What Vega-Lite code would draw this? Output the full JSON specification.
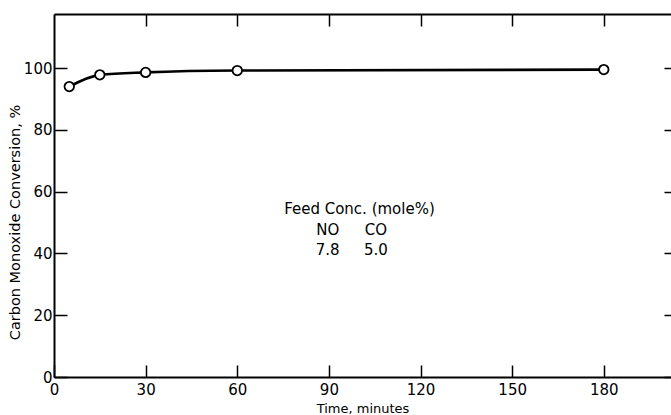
{
  "$schema": "https://vega.github.io/schema/vega-lite/v6.json",
  "autosize": "none",
  "width": 617,
  "height": 363,
  "padding": {"left": 54, "top": 14, "right": 0, "bottom": 38},
  "background": "white",
  "config": {
    "view": {"stroke": null},
    "font": "DejaVu Sans",
    "axis": {
      "grid": false,
      "domainColor": "black",
      "domainWidth": 2,
      "tickColor": "black",
      "tickWidth": 1.5,
      "labelColor": "black",
      "labelFont": "DejaVu Sans",
      "labelFontSize": 15,
      "titleColor": "black",
      "titleFont": "DejaVu Sans",
      "titleFontSize": 13,
      "titleFontWeight": "normal"
    }
  },
  "datasets": {
    "pts": [
      {"time": 5, "conv": 94.0},
      {"time": 15, "conv": 97.8},
      {"time": 30, "conv": 98.6},
      {"time": 60, "conv": 99.2},
      {"time": 180, "conv": 99.5}
    ],
    "notes": [
      {"x": 100, "y": 54.5, "label": "Feed Conc. (mole%)"},
      {"x": 89.6, "y": 47.5, "label": "NO"},
      {"x": 105.4, "y": 47.5, "label": "CO"},
      {"x": 89.6, "y": 41.0, "label": "7.8"},
      {"x": 105.4, "y": 41.0, "label": "5.0"}
    ]
  },
  "layer": [
    {
      "data": {"name": "pts"},
      "mark": {"type": "line", "interpolate": "monotone", "color": "black", "strokeWidth": 2.6},
      "encoding": {
        "x": {
          "field": "time", "type": "quantitative",
          "scale": {"domain": [0, 202], "nice": false, "zero": false},
          "axis": {
            "orient": "bottom", "title": "Time, minutes", "values": [0, 30, 60, 90, 120, 150, 180],
            "tickSize": -12, "labelPadding": 17, "labelFlush": false,
            "titleY": 38, "titleBaseline": "bottom"
          }
        },
        "y": {
          "field": "conv", "type": "quantitative",
          "scale": {"domain": [0, 117.5], "nice": false, "zero": false},
          "axis": {
            "orient": "left", "title": "Carbon Monoxide Conversion, %", "values": [0, 20, 40, 60, 80, 100],
            "tickSize": -13, "labelPadding": 15, "labelFlush": false,
            "titleX": -32, "titleY": 208, "titleFontSize": 14.5
          }
        }
      }
    },
    {
      "data": {"name": "pts"},
      "mark": {"type": "point", "shape": "circle", "filled": true, "fill": "white", "stroke": "black", "strokeWidth": 1.8, "size": 90, "opacity": 1},
      "encoding": {
        "x": {
          "field": "time", "type": "quantitative",
          "axis": {"orient": "top", "title": null, "labels": false, "values": [30, 60, 90, 120, 150, 180], "tickSize": -12}
        },
        "y": {
          "field": "conv", "type": "quantitative",
          "axis": {"orient": "right", "title": null, "labels": false, "domain": false, "values": [0, 20, 40, 60, 80, 100], "tickSize": -7}
        }
      }
    },
    {
      "data": {"name": "notes"},
      "mark": {"type": "text", "font": "DejaVu Sans", "fontSize": 15, "color": "black", "align": "center", "baseline": "middle"},
      "encoding": {
        "x": {"field": "x", "type": "quantitative", "axis": null},
        "y": {"field": "y", "type": "quantitative", "axis": null},
        "text": {"field": "label"}
      }
    }
  ],
  "resolve": {"axis": {"x": "independent", "y": "independent"}}
}
